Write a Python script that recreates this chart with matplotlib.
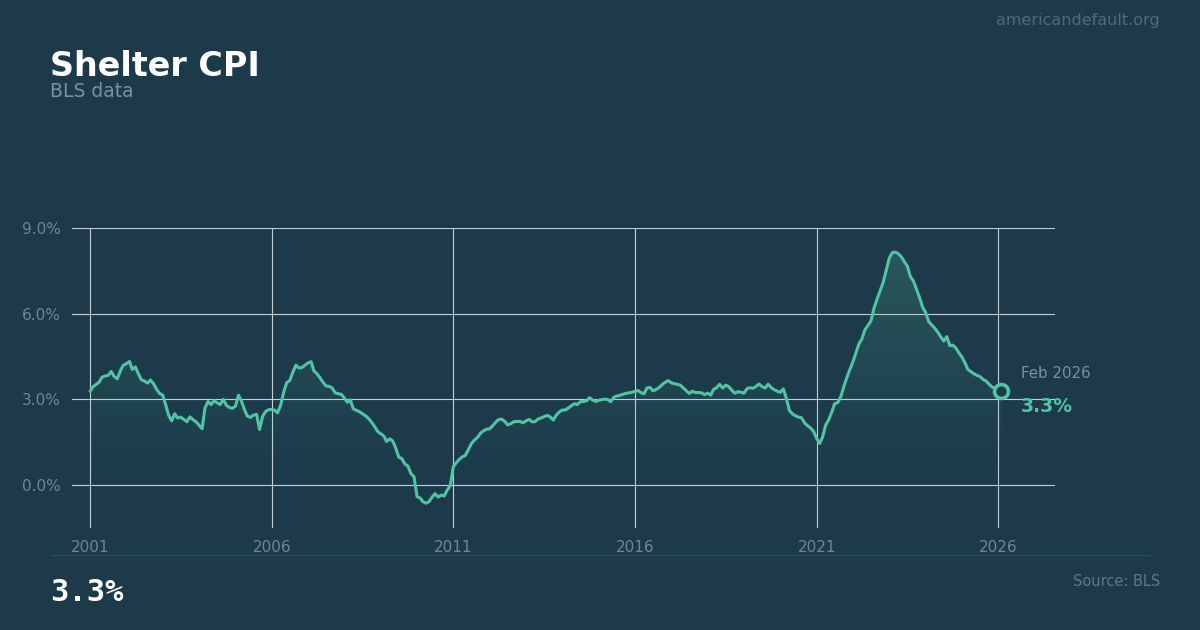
import matplotlib
matplotlib.use("Agg")
import matplotlib.pyplot as plt
import matplotlib.dates as mdates
from matplotlib.lines import Line2D
from matplotlib.colors import to_rgb
import numpy as np
import pandas as pd

# ---------------- data ----------------
series_start = "2001-01-01"  # monthly, Jan 2001 .. Feb 2026
shelter_yoy = [
    3.29, 3.45, 3.52, 3.60, 3.78, 3.82, 3.84, 3.98, 3.80, 3.72,
    4.00, 4.20, 4.25, 4.33, 4.05, 4.14, 3.90, 3.68, 3.65, 3.57,
    3.68, 3.55, 3.35, 3.21, 3.15, 2.80, 2.45, 2.25, 2.50, 2.35,
    2.38, 2.30, 2.22, 2.39, 2.29, 2.22, 2.10, 1.97, 2.70, 2.93,
    2.82, 2.96, 2.88, 2.82, 3.00, 2.80, 2.72, 2.69, 2.76, 3.15,
    2.96, 2.65, 2.42, 2.37, 2.45, 2.48, 1.95, 2.40, 2.58, 2.64,
    2.65, 2.62, 2.53, 2.80, 3.25,
    3.59, 3.66, 3.95, 4.20, 4.10, 4.12, 4.20, 4.28, 4.32, 4.00,
    3.90, 3.76, 3.60, 3.47, 3.46, 3.40, 3.23, 3.20, 3.18, 3.05,
    2.90, 2.98, 2.67, 2.62, 2.57, 2.50, 2.43, 2.33, 2.20, 2.05,
    1.88, 1.80, 1.72, 1.53, 1.62, 1.55, 1.30, 0.98, 0.93, 0.74,
    0.67, 0.40, 0.30, -0.40, -0.45, -0.58, -0.63, -0.58, -0.42, -0.30,
    -0.42, -0.35, -0.38, -0.17, -0.02,
    0.65, 0.79, 0.90, 0.99, 1.04, 1.24, 1.45, 1.58, 1.67, 1.82,
    1.90, 1.96, 1.97, 2.08, 2.20, 2.30, 2.31, 2.23, 2.11, 2.15,
    2.22, 2.23, 2.23, 2.18, 2.25, 2.30, 2.22, 2.22, 2.31, 2.35,
    2.40, 2.44, 2.39, 2.28, 2.45, 2.56, 2.63, 2.63, 2.70, 2.78,
    2.85, 2.82, 2.92, 2.93, 2.95, 3.06, 2.98, 2.93, 2.97, 2.99,
    3.01, 3.00, 2.92, 3.07, 3.12, 3.14, 3.18, 3.21, 3.23, 3.25,
    3.28, 3.31,
    3.24, 3.20, 3.40, 3.42, 3.30, 3.35, 3.42, 3.52, 3.60, 3.66,
    3.58, 3.55, 3.53, 3.50, 3.40, 3.30, 3.21, 3.29, 3.24, 3.24,
    3.23, 3.17, 3.22, 3.15, 3.35, 3.41, 3.53, 3.40, 3.50, 3.45,
    3.32, 3.22, 3.27, 3.25, 3.22, 3.38, 3.41, 3.39, 3.45, 3.54,
    3.45, 3.40, 3.53, 3.42, 3.34, 3.29, 3.25, 3.37, 3.05, 2.62,
    2.50, 2.43, 2.38, 2.36, 2.18, 2.08,
    2.00, 1.88, 1.63, 1.46, 1.68, 2.10, 2.28, 2.55, 2.85, 2.89,
    3.10, 3.45, 3.77, 4.05, 4.32, 4.65, 4.94, 5.12, 5.44, 5.59,
    5.75, 6.20, 6.52, 6.80, 7.10, 7.52, 7.95, 8.14, 8.16, 8.10,
    8.00, 7.82, 7.67, 7.30, 7.14, 6.86, 6.57, 6.24, 6.05, 5.73,
    5.61, 5.50, 5.36, 5.20, 5.04, 5.20, 4.88, 4.90, 4.80, 4.63,
    4.48, 4.27, 4.05, 3.97, 3.90, 3.84, 3.80, 3.70, 3.64, 3.53,
    3.43, 3.40, 3.33, 3.30,
]
year_ticks = [2001, 2006, 2011, 2016, 2021, 2026]
pct_ticks = [0.0, 3.0, 6.0, 9.0]
latest_month_label = "Feb 2026"
latest_value_label = "3.3%"
title_text = "Shelter CPI"
subtitle_text = "BLS data"
source_text = "Source: BLS"
site_text = "americandefault.org"

# ---------------- style ----------------
BG = "#1c3a4a"
LINE = "#52c4a3"
GRID = "#c6cfd4"
TICK = "#6e8793"
W, H = 1200, 630

dates = pd.date_range(series_start, periods=len(shelter_yoy), freq="MS")

fig = plt.figure(figsize=(W / 100, H / 100), dpi=100, facecolor=BG)
ax = fig.add_axes([72 / W, 102 / H, (1055 - 72) / W, 300 / H])
ax.set_facecolor(BG)

ymin, ymax = -1.5, 9.0
xlo, xhi = pd.Timestamp("2000-07-03"), pd.Timestamp("2027-07-25")

# gradient fill under the line
poly = ax.fill_between(dates, shelter_yoy, ymin, facecolor="none", edgecolor="none")
ny = 300
yv = np.linspace(ymin, 8.4, ny)
rgba = np.zeros((ny, 1, 4))
rgba[..., :3] = to_rgb(LINE)
rgba[:, 0, 3] = 0.22 * np.clip(yv / 8.4, 0, 1) ** 1.1
xnum = mdates.date2num(dates)
im = ax.imshow(rgba, extent=[xnum[0], xnum[-1], ymin, 8.4], aspect="auto",
               origin="lower", zorder=1, interpolation="bilinear")
im.set_clip_path(poly.get_paths()[0], transform=ax.transData)

ax.plot(dates, shelter_yoy, color=LINE, lw=2.2, solid_joinstyle="round",
        solid_capstyle="round", zorder=3)
ax.plot([dates[-1]], [shelter_yoy[-1]], "o", ms=10, mfc=BG, mec=LINE, mew=2.6, zorder=4)

ax.set_xlim(xlo, xhi)
ax.set_ylim(ymin, ymax)
ax.set_xticks([pd.Timestamp(f"{y}-01-01") for y in year_ticks])
ax.set_xticklabels([str(y) for y in year_ticks])
ax.set_yticks(pct_ticks)
ax.set_yticklabels([f"{v:.1f}%" for v in pct_ticks])
ax.tick_params(axis="both", length=0, labelsize=11, colors=TICK)
ax.tick_params(axis="x", pad=9)
ax.tick_params(axis="y", pad=8)
ax.grid(True, color=GRID, lw=0.8, zorder=0)
ax.set_axisbelow(True)
for s in ax.spines.values():
    s.set_visible(False)

# annotations at the end of the series
fig.text(1021 / W, 1 - 373 / H, latest_month_label, fontsize=10.8, color="#7d919b",
         ha="left", va="center")
fig.text(1021 / W, 1 - 407 / H, latest_value_label, fontsize=13.5, color=LINE,
         fontweight="bold", ha="left", va="center")

# titles
fig.text(50 / W, 1 - 76 / H, title_text, fontsize=24, fontweight="bold",
         color="white", ha="left", va="baseline")
fig.text(50 / W, 1 - 97 / H, subtitle_text, fontsize=13.5, color="#7d929c",
         ha="left", va="baseline")
fig.text(1160 / W, 1 - 20 / H, site_text, fontsize=11.5, color="#4f6b79",
         ha="right", va="center")

# footer
fig.add_artist(Line2D([50 / W, 1150 / W], [1 - 555 / H, 1 - 555 / H],
                      transform=fig.transFigure, color="#2a4a5a", lw=1))
fig.text(50 / W, 1 - 601 / H, latest_value_label, fontsize=22, fontweight="bold",
         family="DejaVu Sans Mono", color="white", ha="left", va="baseline")
fig.text(1160 / W, 1 - 581 / H, source_text, fontsize=10.5, color="#5f7885",
         ha="right", va="center")

fig.savefig("out.png", dpi=100, facecolor=BG)
